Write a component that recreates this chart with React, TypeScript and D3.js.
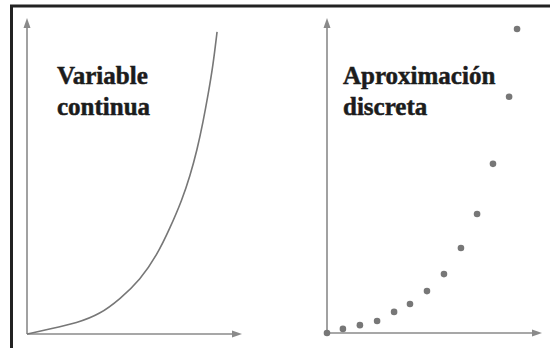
import React from "react";
import * as d3 from "d3";

// Continuous curve (left panel), in data units: x 0..10, y 0..100
const curveX = [0, 1.07, 2.33, 3.4, 4.33, 5.26, 6.05, 6.65, 7.21, 7.58, 7.91, 8.19, 8.42, 8.65, 8.84];
const curveY = [0, 1.6, 3.5, 6.3, 11.1, 17.1, 25.0, 33.5, 42.4, 50.0, 58.2, 67.1, 75.6, 84.8, 95.6];

// Discrete approximation (right panel)
const dotX = [0, 0.74, 1.53, 2.33, 3.12, 3.86, 4.65, 5.44, 6.23, 6.98, 7.72, 8.47, 8.84];
const dotY = [0, 1.3, 2.5, 3.8, 6.7, 9.2, 13.3, 18.7, 27.0, 37.8, 53.7, 75.0, 96.5];

const leftTitle = ["Variable", "continua"];
const rightTitle = ["Aproximación", "discreta"];

const W = 550;
const H = 348;
const axisColor = "#8a8a8a";
const markColor = "#777";

function Axes({ x0, y0, x1, y1 }: { x0: number; y0: number; x1: number; y1: number }) {
  const ah = 10;
  const aw = 3.5;
  return (
    <g>
      <line x1={x0} y1={y0} x2={x1 - ah + 1} y2={y0} stroke={axisColor} strokeWidth={1.6} />
      <line x1={x0} y1={y0} x2={x0} y2={y1 + ah - 1} stroke={axisColor} strokeWidth={1.6} />
      <path d={`M${x1},${y0} L${x1 - ah},${y0 - aw} L${x1 - ah},${y0 + aw} Z`} fill={axisColor} />
      <path d={`M${x0},${y1} L${x0 - aw},${y1 + ah} L${x0 + aw},${y1 + ah} Z`} fill={axisColor} />
    </g>
  );
}

export default function App() {
  // Left panel scales
  const lx = d3.scaleLinear().domain([0, 10]).range([27, 242]);
  const ly = d3.scaleLinear().domain([0, 100]).range([334, 18]);
  // Right panel scales
  const rx = d3.scaleLinear().domain([0, 10]).range([327, 542]);
  const ry = d3.scaleLinear().domain([0, 100]).range([333, 18]);

  const curvePts: [number, number][] = curveX.map((v, i) => [v, curveY[i]]);
  const line = d3
    .line<[number, number]>()
    .x((d) => lx(d[0]))
    .y((d) => ly(d[1]))
    .curve(d3.curveBasis);

  const textStyle: React.CSSProperties = {
    fontFamily: '"Liberation Serif", "Times New Roman", serif',
    fontWeight: 700,
    fontSize: "25px",
    fill: "#1c1c1c",
    stroke: "#1c1c1c",
    strokeWidth: 0.5,
  };

  return (
    <svg
      width={W}
      height={H}
      style={{ position: "absolute", left: 0, top: 0, background: "#fff" }}
    >
      <rect x={0} y={0} width={W} height={H} fill="#fff" />
      <rect x={11.5} y={6} width={700} height={500} fill="none" stroke="#222" strokeWidth={3} />

      <Axes x0={lx(0)} y0={ly(0)} x1={lx(10)} y1={ly(100)} />
      <path d={line(curvePts) || ""} fill="none" stroke={markColor} strokeWidth={1.6} />

      <Axes x0={rx(0)} y0={ry(0)} x1={rx(10)} y1={ry(100)} />
      {dotX.map((v, i) => (
        <circle key={i} cx={rx(v)} cy={ry(dotY[i])} r={3.3} fill={markColor} />
      ))}

      <text x={57} y={84} style={textStyle}>{leftTitle[0]}</text>
      <text x={57} y={115} style={textStyle}>{leftTitle[1]}</text>
      <text x={343} y={84} style={textStyle}>{rightTitle[0]}</text>
      <text x={343} y={115} style={textStyle}>{rightTitle[1]}</text>
    </svg>
  );
}
